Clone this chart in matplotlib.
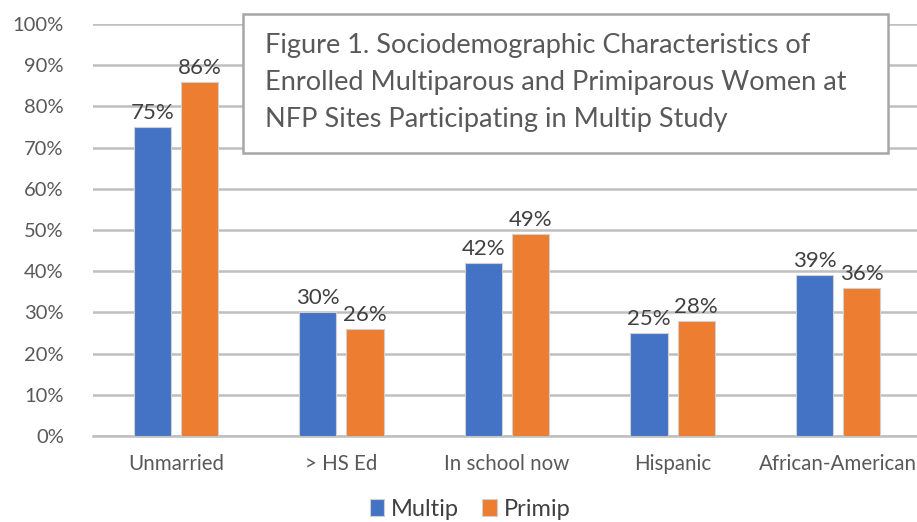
import numpy as np
import matplotlib.pyplot as plt
from matplotlib.patches import Rectangle

# Datos de la figura
categorias = ['Unmarried', '> HS Ed', 'In school now', 'Hispanic', 'African-American']
multip = [75, 30, 42, 25, 39]
primip = [86, 26, 49, 28, 36]

azul = '#4472C4'
naranja = '#ED7D31'
gris_texto = '#595959'

plt.rcParams['font.family'] = ['Lato', 'DejaVu Sans']

fig = plt.figure(figsize=(9.17, 5.22), dpi=100)
# el eje se sale un poco por la derecha (la ultima etiqueta queda cortada)
ax = fig.add_axes([93/917, 86/522, 828/917, 412/522])

x = np.arange(len(categorias))
w = 0.225
sep = 0.06
b1 = ax.bar(x - (w + sep)/2, multip, w, color=azul, edgecolor='#d0d0d0', linewidth=0.8, label='Multip', zorder=3)
b2 = ax.bar(x + (w + sep)/2, primip, w, color=naranja, edgecolor='#d0d0d0', linewidth=0.8, label='Primip', zorder=3)

# etiquetas de valor
for barras, vals in [(b1, multip), (b2, primip)]:
    for r, v in zip(barras, vals):
        ax.text(r.get_x() + r.get_width()/2, v + 1.0, str(v) + '%', ha='center', va='bottom',
                fontsize=16, color='#404040', zorder=4)

ax.set_xlim(-0.5, len(categorias) - 0.5)
ax.set_ylim(0, 100)
ax.set_yticks(np.arange(0, 101, 10))
ax.set_yticklabels([str(v) + '%' for v in range(0, 101, 10)], fontsize=14.5, color=gris_texto)
ax.set_xticks(x)
ax.set_xticklabels(categorias, fontsize=14.8, color=gris_texto)
ax.tick_params(axis='both', length=0)
ax.tick_params(axis='x', pad=13)
ax.tick_params(axis='y', pad=21)
ax.grid(axis='y', color='#bfbfbf', linewidth=1.8, zorder=0)
for s in ['top', 'right', 'left']:
    ax.spines[s].set_visible(False)
ax.spines['bottom'].set_color('#bfbfbf')
ax.spines['bottom'].set_linewidth(1.8)

# leyenda
fig.legend(handles=[b1, b2], loc='center', bbox_to_anchor=(470/917, 1 - 509/522), ncol=2,
           frameon=False, fontsize=17, handlelength=0.6, handleheight=0.75, handletextpad=0.3,
           columnspacing=1.0, labelcolor='#404040')

# recuadro con el titulo
fig.patches.append(Rectangle((243/917, 1 - 153/522), 645/917, 139/522, transform=fig.transFigure,
                             facecolor='white', edgecolor='#a6a6a6', linewidth=1.8, zorder=5))
titulo = ['Figure 1. Sociodemographic Characteristics of',
          'Enrolled Multiparous and Primiparous Women at',
          'NFP Sites Participating in Multip Study']
for i, linea in enumerate(titulo):
    fig.text(265/917, 1 - (45 + 37.5*i)/522, linea, fontsize=19.5, color=gris_texto,
             ha='left', va='center', zorder=6)

fig.savefig('out.png', dpi=100)
